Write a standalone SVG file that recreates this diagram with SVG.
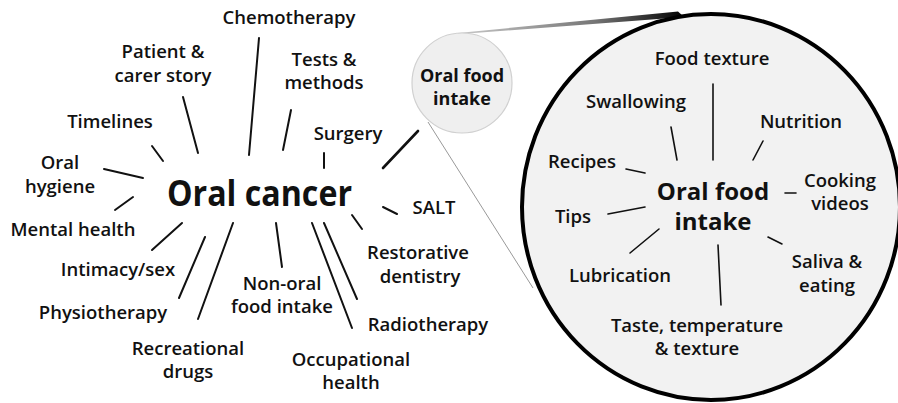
<svg xmlns="http://www.w3.org/2000/svg" width="898" height="403" viewBox="0 0 898 403">
<defs>
<linearGradient id="wedge" x1="0" y1="0" x2="1" y2="0">
<stop offset="0" stop-color="#c8c8c8"/>
<stop offset="0.6" stop-color="#777"/>
<stop offset="1" stop-color="#000"/>
</linearGradient>
<style>
text{font-family:"Open Sans","Liberation Sans",sans-serif;fill:#111;text-anchor:middle}
.l{font-size:18.5px;font-weight:600}
.t{font-size:35px;font-weight:700}
.s{font-size:18px;font-weight:700}
.m{font-size:24px;font-weight:700}
.c line{stroke:#111;stroke-width:2;stroke-linecap:round}
.i line{stroke:#111;stroke-width:1.6;stroke-linecap:round}
</style>
</defs>
<rect width="898" height="403" fill="#fff"/>
<g id="zoom-lines">
<polygon points="458,33 678,11.5 684,17 458,34.2" fill="url(#wedge)"/>
<line x1="428" y1="122" x2="533" y2="288" stroke="#999" stroke-width="1"/>
</g>
<g id="small-circle">
<circle cx="462" cy="83" r="50" fill="#efefef" stroke="#d0d0d0" stroke-width="1.2"/>
<text class="s" x="462" y="82">Oral food</text>
<text class="s" x="462" y="105">intake</text>
</g>
<g id="big-circle">
<ellipse cx="711" cy="207" rx="189" ry="193" fill="#f2f2f2" stroke="#000" stroke-width="4"/>
</g>
<g id="connectors" class="c">
<line x1="183" y1="97" x2="198" y2="153"/>
<line x1="259" y1="38" x2="249" y2="155"/>
<line x1="291" y1="110" x2="283" y2="150"/>
<line x1="152" y1="146" x2="163" y2="161"/>
<line x1="324" y1="153" x2="324" y2="168"/>
<line x1="418" y1="131" x2="383" y2="168" style="stroke-width:2.6"/>
<line x1="104" y1="169" x2="143" y2="178"/>
<line x1="133" y1="197" x2="115" y2="210"/>
<line x1="182" y1="223" x2="152" y2="250"/>
<line x1="205" y1="237" x2="179" y2="298"/>
<line x1="233" y1="223" x2="198" y2="319"/>
<line x1="276" y1="223" x2="282" y2="267"/>
<line x1="312" y1="223" x2="352" y2="328"/>
<line x1="324" y1="223" x2="357" y2="299"/>
<line x1="352" y1="215" x2="362" y2="229"/>
<line x1="383" y1="207" x2="397" y2="214"/>
</g>
<g id="inner-connectors" class="i">
<line x1="713" y1="84" x2="713" y2="160"/>
<line x1="671" y1="127" x2="677" y2="160"/>
<line x1="763" y1="141" x2="753" y2="160"/>
<line x1="626" y1="169" x2="645" y2="173"/>
<line x1="785" y1="193" x2="796" y2="193"/>
<line x1="608" y1="214" x2="645" y2="207"/>
<line x1="630" y1="253" x2="659" y2="229"/>
<line x1="768" y1="237" x2="782" y2="244"/>
<line x1="718" y1="245" x2="721" y2="305"/>
</g>
<g id="oral-cancer"><text class="t" x="259.5" y="206" textLength="185" lengthAdjust="spacingAndGlyphs">Oral cancer</text></g>
<g id="chemotherapy"><text class="l" x="289" y="24">Chemotherapy</text></g>
<g id="patient"><text class="l" x="163" y="58">Patient &amp;</text><text class="l" x="163" y="82">carer story</text></g>
<g id="tests"><text class="l" x="324" y="66">Tests &amp;</text><text class="l" x="324" y="89">methods</text></g>
<g id="timelines"><text class="l" x="110" y="128">Timelines</text></g>
<g id="surgery"><text class="l" x="348" y="140">Surgery</text></g>
<g id="oral-hygiene"><text class="l" x="60" y="169">Oral</text><text class="l" x="60" y="193">hygiene</text></g>
<g id="mental-health"><text class="l" x="73" y="236">Mental health</text></g>
<g id="intimacy"><text class="l" x="118" y="276">Intimacy/sex</text></g>
<g id="physiotherapy"><text class="l" x="103" y="319">Physiotherapy</text></g>
<g id="recreational"><text class="l" x="188" y="355">Recreational</text><text class="l" x="188" y="378">drugs</text></g>
<g id="non-oral"><text class="l" x="282" y="290">Non-oral</text><text class="l" x="282" y="313">food intake</text></g>
<g id="occupational"><text class="l" x="351" y="366">Occupational</text><text class="l" x="351" y="389">health</text></g>
<g id="radiotherapy"><text class="l" x="428" y="331">Radiotherapy</text></g>
<g id="restorative"><text class="l" x="418" y="259">Restorative</text><text class="l" x="420" y="283">dentistry</text></g>
<g id="salt"><text class="l" x="434" y="214">SALT</text></g>
<g id="oral-food-intake"><text class="m" x="713" y="200">Oral food</text><text class="m" x="713" y="230">intake</text></g>
<g id="food-texture"><text class="l" x="712" y="65">Food texture</text></g>
<g id="swallowing"><text class="l" x="636" y="108">Swallowing</text></g>
<g id="nutrition"><text class="l" x="801" y="128">Nutrition</text></g>
<g id="recipes"><text class="l" x="582" y="168">Recipes</text></g>
<g id="cooking"><text class="l" x="840" y="187">Cooking</text><text class="l" x="840" y="210">videos</text></g>
<g id="tips"><text class="l" x="573" y="223">Tips</text></g>
<g id="lubrication"><text class="l" x="620" y="282">Lubrication</text></g>
<g id="saliva"><text class="l" x="827" y="268">Saliva &amp;</text><text class="l" x="827" y="292">eating</text></g>
<g id="taste"><text class="l" x="697" y="332">Taste, temperature</text><text class="l" x="697" y="355">&amp; texture</text></g>
</svg>
